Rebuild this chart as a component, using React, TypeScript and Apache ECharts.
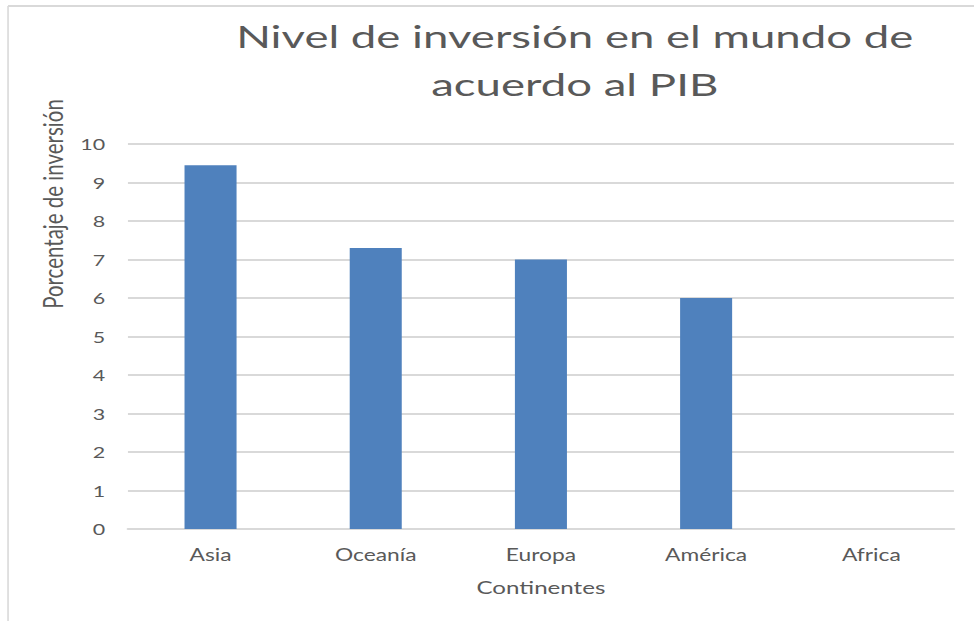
import React, { useEffect, useRef } from "react";
import * as echarts from "echarts";

const categories = ["Asia", "Oceanía", "Europa", "América", "Africa"];
const values = [9.45, 7.3, 7.0, 6.0, 0];
const titleLines = ["Nivel de inversión en el mundo de", "acuerdo al PIB"];
const yAxisName = "Porcentaje de inversión";
const xAxisName = "Continentes";

const FONT = "Lato, 'Open Sans', sans-serif";
const GRAY = "#595959";
// The reference picture is stretched horizontally; draw narrower and stretch.
const W = 727;
const H = 621;
const SX = 974 / W;

export default function App() {
  const ref = useRef<HTMLDivElement>(null);
  useEffect(() => {
    if (!ref.current) return;
    const chart = echarts.init(ref.current, undefined, { renderer: "svg" });
    chart.setOption({
      animation: false,
      backgroundColor: "#ffffff",
      grid: { left: 95.5, right: 15, top: 144, bottom: 92, containLabel: false },
      graphic: [
        { type: "line", shape: { x1: 6, y1: 6, x2: W, y2: 6 }, style: { stroke: "#d9d9d9", lineWidth: 2 } },
        { type: "line", shape: { x1: 6, y1: 6, x2: 6, y2: H }, style: { stroke: "#d9d9d9", lineWidth: 1.2 } },
        {
          type: "text",
          x: 429,
          y: 36,
          scaleX: 1.08,
          style: { text: titleLines[0], font: `31.5px ${FONT}`, fill: GRAY, align: "center", verticalAlign: "middle" },
        },
        {
          type: "text",
          x: 429,
          y: 84,
          scaleX: 1.08,
          style: { text: titleLines[1], font: `31.5px ${FONT}`, fill: GRAY, align: "center", verticalAlign: "middle" },
        },
        {
          type: "text",
          x: 39,
          y: 204,
          rotation: Math.PI / 2,
          style: { text: yAxisName, font: `20.5px ${FONT}`, fill: GRAY, align: "center", verticalAlign: "middle" },
        },
      ],
      xAxis: {
        type: "category",
        data: categories,
        name: xAxisName,
        nameLocation: "middle",
        nameGap: 49,
        nameTextStyle: { color: GRAY, fontFamily: FONT, fontSize: 18 },
        axisLine: { show: true, lineStyle: { color: "#d9d9d9", width: 2 } },
        axisTick: { show: false },
        axisLabel: { color: GRAY, fontFamily: FONT, fontSize: 17, margin: 17 },
      },
      yAxis: {
        type: "value",
        min: 0,
        max: 10,
        interval: 1,
        axisLine: { show: false },
        axisTick: { show: false },
        axisLabel: { color: GRAY, fontFamily: FONT, fontSize: 16, margin: 17 },
        splitLine: { lineStyle: { color: "#d9d9d9", width: 2 } },
      },
      series: [
        {
          type: "bar",
          data: values,
          barWidth: "31.5%",
          itemStyle: { color: "#4f81bd" },
        },
      ],
    });
    return () => chart.dispose();
  }, []);
  return (
    <div
      ref={ref}
      style={{
        position: "absolute",
        left: 0,
        top: 0,
        width: W,
        height: H,
        transform: `scaleX(${SX})`,
        transformOrigin: "0 0",
      }}
    />
  );
}
